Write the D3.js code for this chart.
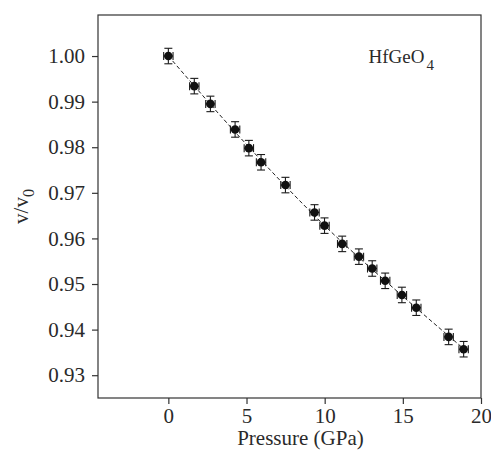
<!DOCTYPE html>
<html lang="en">
<head>
  <meta charset="UTF-8">
  <title>HfGeO4 compression</title>
  <script src="https://d3js.org/d3.v7.min.js"></script>
  <style>
    body { margin: 0; background: #fff; }
    text { font-family: "Liberation Serif", "Times New Roman", serif; fill: #2a2a2a; }
    .frame { fill: none; stroke: #333; stroke-width: 1.2; }
    .axis path { display: none; }
    .axis line { stroke: #333; stroke-width: 1.2; }
    .axis text { font-size: 21px; }
    .err { stroke: #1a1a1a; stroke-width: 1.1; }
    .fit { fill: none; stroke: #222; stroke-width: 1; stroke-dasharray: 4,2.5; }
  </style>
</head>
<body>
  <div id="chart"></div>
  <script>
    // measured points (pressure in GPa, relative volume)
    const pressure = [0, 1.66, 2.69, 4.27, 5.15, 5.93, 7.49, 9.35, 9.99, 11.12, 12.19, 13.04, 13.87, 14.94, 15.86, 17.93, 18.89];
    const volume = [1.0000, 0.9934, 0.9895, 0.9839, 0.9798, 0.9767, 0.9717, 0.9657, 0.9628, 0.9588, 0.9560, 0.9534, 0.9507, 0.9476, 0.9448, 0.9384, 0.9357];
    const pErr = 0.3;
    const vErr = 0.0017;

    // fitted curve
    const fitP = [0, 5, 10, 15, 19.1];
    const fitV = [1.0000, 0.9806, 0.9628, 0.9473, 0.9352];

    const xTicks = [0, 5, 10, 15, 20];
    const yTicks = [0.93, 0.94, 0.95, 0.96, 0.97, 0.98, 0.99, 1.00];

    const margin = { top: 15, right: 10, bottom: 64, left: 98 },
          width = 491 - margin.left - margin.right,
          height = 462 - margin.top - margin.bottom;

    const svg = d3.select("#chart")
                  .append("svg")
                  .attr("width", 491)
                  .attr("height", 462)
                  .append("g")
                  .attr("transform", `translate(${margin.left},${margin.top})`);

    const x = d3.scaleLinear().domain([-4.5, 20]).range([0, width]);
    const y = d3.scaleLinear().domain([0.925, 1.009]).range([height, 0]);

    svg.append("g")
       .attr("class", "axis")
       .attr("transform", `translate(0,${height})`)
       .call(d3.axisBottom(x).tickValues(xTicks).tickSize(6).tickPadding(4).tickFormat(d3.format("d")));

    svg.append("g")
       .attr("class", "axis")
       .call(d3.axisLeft(y).tickValues(yTicks).tickSize(6).tickPadding(7).tickFormat(d3.format(".2f")));

    svg.append("rect")
       .attr("class", "frame")
       .attr("width", width)
       .attr("height", height);

    // fit line
    const fitData = fitP.map((p, i) => ({ p: p, v: fitV[i] }));
    svg.append("path")
       .datum(fitData)
       .attr("class", "fit")
       .attr("d", d3.line().x(d => x(d.p)).y(d => y(d.v)).curve(d3.curveMonotoneX));

    const pts = pressure.map((p, i) => ({ p: p, v: volume[i] }));
    const cap = 4;

    const g = svg.selectAll(".pt").data(pts).enter().append("g").attr("class", "pt");

    // vertical error bars
    g.append("line").attr("class", "err")
     .attr("x1", d => x(d.p)).attr("x2", d => x(d.p))
     .attr("y1", d => y(d.v - vErr)).attr("y2", d => y(d.v + vErr));
    g.append("line").attr("class", "err")
     .attr("x1", d => x(d.p) - cap).attr("x2", d => x(d.p) + cap)
     .attr("y1", d => y(d.v + vErr)).attr("y2", d => y(d.v + vErr));
    g.append("line").attr("class", "err")
     .attr("x1", d => x(d.p) - cap).attr("x2", d => x(d.p) + cap)
     .attr("y1", d => y(d.v - vErr)).attr("y2", d => y(d.v - vErr));

    // horizontal error bars
    g.append("line").attr("class", "err")
     .attr("x1", d => x(d.p - pErr)).attr("x2", d => x(d.p + pErr))
     .attr("y1", d => y(d.v)).attr("y2", d => y(d.v));
    g.append("line").attr("class", "err")
     .attr("x1", d => x(d.p - pErr)).attr("x2", d => x(d.p - pErr))
     .attr("y1", d => y(d.v) - cap).attr("y2", d => y(d.v) + cap);
    g.append("line").attr("class", "err")
     .attr("x1", d => x(d.p + pErr)).attr("x2", d => x(d.p + pErr))
     .attr("y1", d => y(d.v) - cap).attr("y2", d => y(d.v) + cap);

    g.append("circle")
     .attr("cx", d => x(d.p))
     .attr("cy", d => y(d.v))
     .attr("r", 4.3)
     .attr("fill", "#111");

    // compound label
    const lab = svg.append("text")
       .attr("x", x(12.8))
       .attr("y", y(0.9985))
       .attr("font-size", 19);
    lab.append("tspan").text("HfGeO");
    lab.append("tspan").attr("font-size", 15).attr("dy", 7).attr("dx", 2).text("4");

    // axis titles
    svg.append("text")
       .attr("x", x(8.45))
       .attr("y", height + 47)
       .attr("text-anchor", "middle")
       .attr("font-size", 21)
       .text("Pressure (GPa)");

    const yl = svg.append("text")
       .attr("transform", `translate(${-70},${height / 2}) rotate(-90)`)
       .attr("text-anchor", "middle")
       .attr("font-size", 21);
    yl.append("tspan").text("v/v");
    yl.append("tspan").attr("font-size", 16).attr("dy", 6).text("0");
  </script>
</body>
</html>
